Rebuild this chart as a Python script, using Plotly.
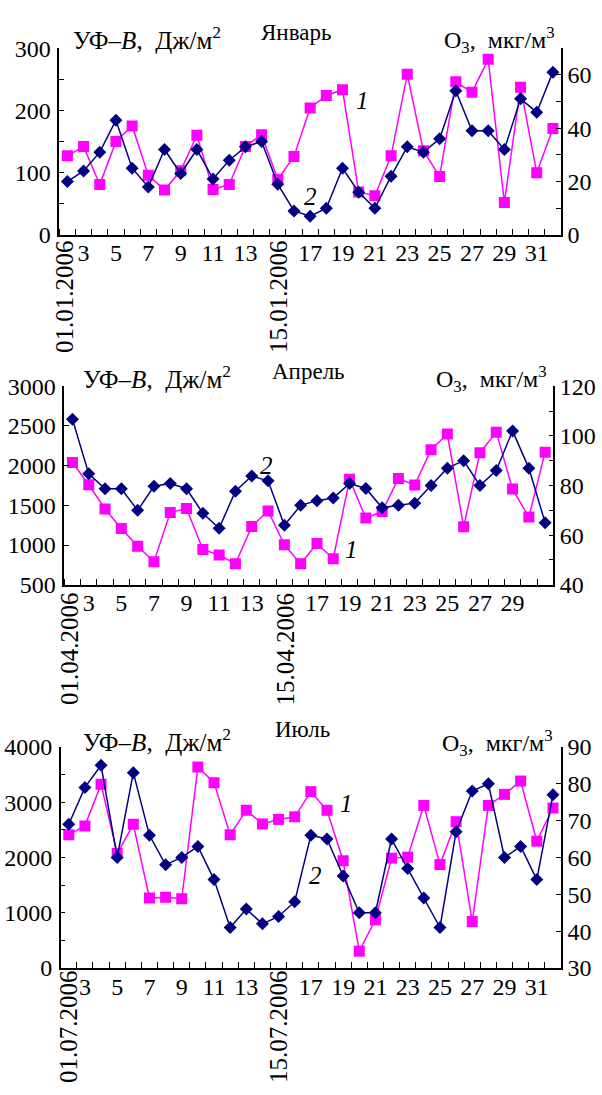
import plotly.graph_objects as go

W, H = 602, 1095

# ---------------- data ----------------
jan_uvb = [127, 142, 81, 150, 175, 96, 72, 103, 160, 73, 81, 142, 161, 89, 126, 204,
           224, 233, 69, 63, 127, 258, 135, 94, 246, 229, 282, 52, 237, 100, 171]
jan_o3 = [20, 24, 31, 43, 25, 18, 32, 23, 32, 21, 28, 33, 35, 19, 9, 7,
          10, 25, 16, 10, 22, 33, 31, 36, 54, 39, 39, 32, 51, 46, 61]

apr_uvb = [2040, 1760, 1455, 1210, 985, 790, 1410, 1460, 945, 875, 765, 1235, 1430, 1005, 765,
           1020, 828, 1828, 1340, 1422, 1838, 1755, 2200, 2398, 1230, 2163, 2422, 1705, 1354, 2170]
apr_o3 = [106.7, 84.7, 78.7, 78.7, 70, 79.7, 80.8, 78.7, 68.8, 62.8, 77.7, 83.8, 81.9, 64, 72,
          73.9, 75, 80.8, 78.8, 71, 72, 72.9, 80, 87, 90, 80, 86, 102, 87, 65]

jul_uvb = [2412, 2571, 3324, 2071, 2600, 1265, 1282, 1253, 3635, 3353, 2412, 2853, 2606, 2688, 2735,
           3190, 2853, 1941, 306, 873, 1988, 2006, 2941, 1871, 2647, 841, 2941, 3141, 3382, 2294, 2894]
jul_o3 = [69, 79, 85, 60, 83, 66, 58, 60, 63, 54, 41, 46, 42, 44, 48,
          66, 65, 55, 45, 45, 65, 57, 49, 41, 67, 78, 80, 60, 63, 54, 77]

jan_ticks = ["3", "5", "7", "9", "11", "13", "17", "19", "21", "23", "25", "27", "29", "31"]
apr_ticks = ["3", "5", "7", "9", "11", "13", "17", "19", "21", "23", "25", "27", "29"]
jul_ticks = ["3", "5", "7", "9", "11", "13", "17", "19", "21", "23", "25", "27", "29", "31"]
jan_dates = ["01.01.2006", "15.01.2006"]
apr_dates = ["01.04.2006", "15.04.2006"]
jul_dates = ["01.07.2006", "15.07.2006"]
month_titles = ["Январь", "Апрель", "Июль"]

FONT = "Liberation Serif, Times New Roman, serif"
MAG = "#FF00FF"
NAVY = "#000080"


def px(x):
    return x / W


def py(y):
    return 1 - y / H


# panel geometry in pixels: left, right, top, bottom
panels = [
    dict(l=59.3, r=561, t=36, b=227.3, uvb=jan_uvb, o3=jan_o3, ticks=jan_ticks, dates=jan_dates,
         yl=[0, 300], yl_d=100, yl_m=50, yr=[0, 70], yr_d=20, yr_m=10,
         title_y=20, lab_y=26, o3_y=28, title_x=296, lab_x=71, o3_x=557,
         date_y=290, date_x=(0.78, 14), c1=(362, 90), c2=(310, 188)),
    dict(l=64.3, r=553.3, t=382.3, b=585.7, uvb=apr_uvb, o3=apr_o3, ticks=apr_ticks, dates=apr_dates,
         yl=[500, 3000], yl_d=500, yl_m=None, yr=[40, 120], yr_d=20, yr_m=10,
         title_y=367, lab_y=373, o3_y=375, title_x=308, lab_x=81, o3_x=549,
         date_y=651, date_x=(0.82, 14.1), c1=(351, 550), c2=(266, 463)),
    dict(l=60.7, r=561, t=751.7, b=978.3, uvb=jul_uvb, o3=jul_o3, ticks=jul_ticks, dates=jul_dates,
         yl=[0, 4000], yl_d=1000, yl_m=500, yr=[30, 90], yr_d=10, yr_m=None,
         title_y=734, lab_y=745, o3_y=748, title_x=302, lab_x=81, o3_x=555,
         date_y=1038, date_x=(1.0, 14), c1=(346, 810), c2=(315, 883)),
]

fig = go.Figure()
layout = dict(
    width=W, height=H, margin=dict(l=0, r=0, t=0, b=0),
    paper_bgcolor="white", plot_bgcolor="white", showlegend=False,
    font=dict(family=FONT, size=24, color="black"),
)
annotations = []
tickfont = dict(family=FONT, size=24, color="black")

for i, p in enumerate(panels):
    n = len(p["uvb"])
    days = list(range(1, n + 1))
    xa = "x" if i == 0 else f"x{i + 1}"
    ya_l = "y" if i == 0 else f"y{2 * i + 1}"
    ya_r = f"y{2 * i + 2}"
    xkey = "xaxis" if i == 0 else f"xaxis{i + 1}"
    ylkey = "yaxis" if i == 0 else f"yaxis{2 * i + 1}"
    yrkey = f"yaxis{2 * i + 2}"

    fig.add_trace(go.Scatter(x=days, y=p["uvb"], xaxis=xa, yaxis=ya_l, mode="lines+markers",
                             line=dict(color=MAG, width=1.5),
                             marker=dict(symbol="square", size=11, color=MAG)))
    fig.add_trace(go.Scatter(x=days, y=p["o3"], xaxis=xa, yaxis=ya_r, mode="lines+markers",
                             line=dict(color=NAVY, width=1.5),
                             marker=dict(symbol="diamond", size=10, color=NAVY)))

    dom_x = [px(p["l"]), px(p["r"])]
    dom_y = [py(p["b"]), py(p["t"])]
    tvals = [int(t) - 1 for t in p["ticks"]]
    layout[xkey] = dict(
        domain=dom_x, anchor=ya_l, range=[0.5, n + 0.5],
        showline=True, linecolor="black", linewidth=1.5, showgrid=False, zeroline=False,
        tickmode="array", tickvals=tvals, ticktext=p["ticks"], ticks="", tickfont=tickfont,
        ticklabelstandoff=-4,
        minor=dict(tickmode="array", tickvals=[k + 0.5 for k in range(n + 1)],
                   ticks="inside", ticklen=6, tickcolor="black", tickwidth=1.2, showgrid=False),
    )
    ly = dict(
        domain=dom_y, anchor=xa, range=p["yl"], showline=True, linecolor="black", linewidth=1.5,
        showgrid=False, zeroline=False, tickmode="linear", tick0=p["yl"][0], dtick=p["yl_d"],
        ticks="inside", ticklen=5, tickcolor="black", tickwidth=1.2, tickfont=tickfont,
        ticklabelstandoff=2,
    )
    if p["yl_m"]:
        ly["minor"] = dict(tick0=p["yl"][0], dtick=p["yl_m"], ticks="inside", ticklen=5,
                           tickcolor="black", tickwidth=1.2, showgrid=False)
    layout[ylkey] = ly
    ry = dict(
        domain=dom_y, anchor=xa, overlaying=ya_l, side="right", range=p["yr"],
        showline=True, linecolor="black", linewidth=1.5, showgrid=False, zeroline=False,
        tickmode="linear", tick0=p["yr"][0], dtick=p["yr_d"],
        ticks="inside", ticklen=5, tickcolor="black", tickwidth=1.2, tickfont=tickfont,
    )
    if p["yr_m"]:
        ry["minor"] = dict(tick0=p["yr"][0], dtick=p["yr_m"], ticks="inside", ticklen=5,
                           tickcolor="black", tickwidth=1.2, showgrid=False)
    layout[yrkey] = ry

    # rotated date labels
    for xv, txt in zip(p["date_x"], p["dates"]):
        annotations.append(dict(x=xv, xref=xa, y=py(p["date_y"]), yref="paper", text=txt,
                                textangle=-90, showarrow=False, xanchor="center", yanchor="middle",
                                font=dict(family=FONT, size=25)))
    # titles
    annotations.append(dict(x=px(p["title_x"]), y=py(p["title_y"]), xref="paper", yref="paper",
                            text=month_titles[i], showarrow=False, xanchor="center", yanchor="middle",
                            font=dict(family=FONT, size=23)))
    annotations.append(dict(x=px(p["lab_x"]), y=py(p["lab_y"]), xref="paper", yref="paper",
                            text="УФ–<i>B</i>,\u2002Дж/м<sup>2</sup>", showarrow=False,
                            xanchor="left", yanchor="middle", font=dict(family=FONT, size=25)))
    annotations.append(dict(x=px(p["o3_x"]), y=py(p["o3_y"]), xref="paper", yref="paper",
                            text="O<sub>3</sub>,\u2002мкг/м<sup>3</sup>", showarrow=False,
                            xanchor="right", yanchor="middle", font=dict(family=FONT, size=24)))
    # curve labels
    for lbl, (cx, cy) in (("1", p["c1"]), ("2", p["c2"])):
        annotations.append(dict(x=px(cx), y=py(cy), xref="paper", yref="paper",
                                text=f"<i>{lbl}</i>", showarrow=False, xanchor="center",
                                yanchor="middle", font=dict(family=FONT, size=25)))

layout["annotations"] = annotations
fig.update_layout(**layout)
fig.write_html("out.html")
